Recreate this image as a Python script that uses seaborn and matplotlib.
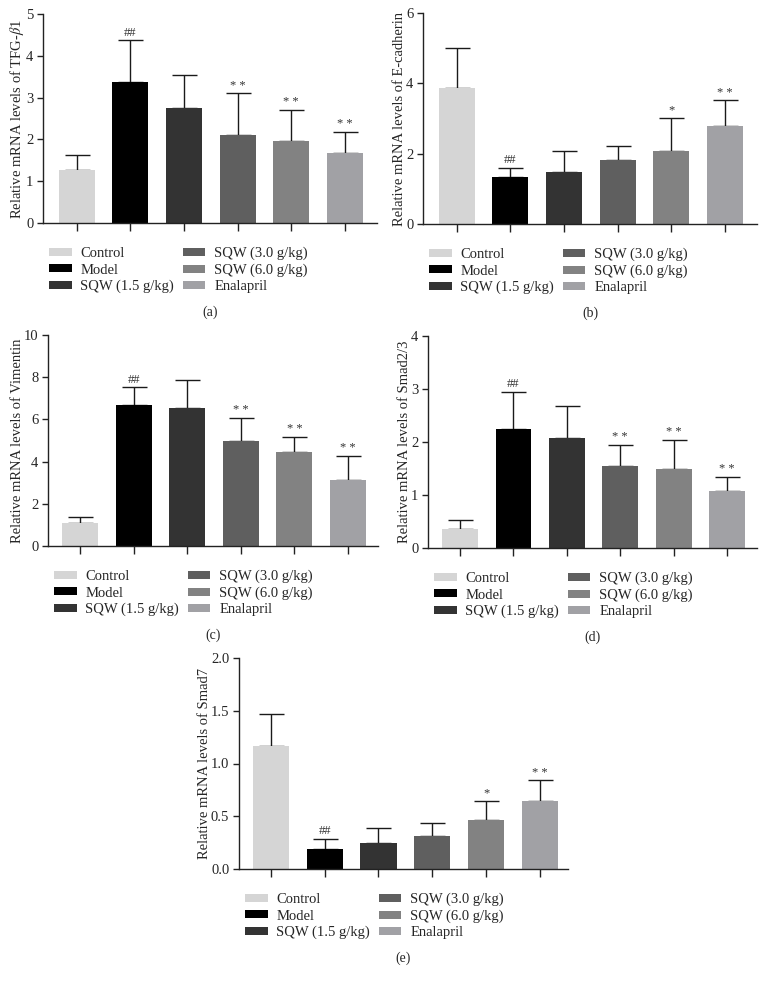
import matplotlib
matplotlib.use("Agg")
import matplotlib.pyplot as plt
import seaborn as sns
import numpy as np
from matplotlib.patches import Patch

sns.set_style("white")
plt.rcParams['font.family'] = ['Liberation Serif', 'DejaVu Serif']
plt.rcParams['mathtext.fontset'] = 'stix'

groups = ["Control", "Model", "SQW (1.5 g/kg)", "SQW (3.0 g/kg)", "SQW (6.0 g/kg)", "Enalapril"]
colors = ["#d5d5d5", "#000000", "#333333", "#5f5f5f", "#828282", "#a1a1a5"]

tgf_mean = [1.26, 3.37, 2.76, 2.10, 1.96, 1.68]
tgf_upper = [1.62, 4.37, 3.53, 3.10, 2.70, 2.18]
tgf_sig = ["", "##", "", "* *", "* *", "* *"]

ecad_mean = [3.86, 1.35, 1.49, 1.81, 2.08, 2.79]
ecad_upper = [5.00, 1.60, 2.09, 2.23, 3.02, 3.52]
ecad_sig = ["", "##", "", "", "*", "* *"]

vim_mean = [1.07, 6.68, 6.52, 4.99, 4.47, 3.11]
vim_upper = [1.39, 7.52, 7.88, 6.07, 5.18, 4.27]
vim_sig = ["", "##", "", "* *", "* *", "* *"]

smad23_mean = [0.35, 2.24, 2.07, 1.54, 1.49, 1.08]
smad23_upper = [0.53, 2.95, 2.68, 1.95, 2.04, 1.34]
smad23_sig = ["", "##", "", "* *", "* *", "* *"]

smad7_mean = [1.17, 0.19, 0.25, 0.31, 0.465, 0.645]
smad7_upper = [1.47, 0.285, 0.39, 0.44, 0.64, 0.84]
smad7_sig = ["", "##", "", "", "*", "* *"]

W, H = 765, 986
fig = plt.figure(figsize=(W / 100, H / 100), dpi=100)


def px_axes(left, right, top, bottom):
    return fig.add_axes([left / W, 1 - bottom / H, (right - left) / W, (bottom - top) / H])


panels = [
    dict(box=(43, 377, 14, 223), mean=tgf_mean, upper=tgf_upper, sig=tgf_sig, ymax=5, ticks=[0, 1, 2, 3, 4, 5],
         fmt="{:.0f}", ylabel="Relative mRNA levels of TFG-$\\beta$1", cap="(a)", xl=(-0.63, 5.6)),
    dict(box=(423, 757, 13, 224), mean=ecad_mean, upper=ecad_upper, sig=ecad_sig, ymax=6, ticks=[0, 2, 4, 6],
         fmt="{:.0f}", ylabel="Relative mRNA levels of E-cadherin", cap="(b)", xl=(-0.63, 5.6)),
    dict(box=(48, 378, 335, 546), mean=vim_mean, upper=vim_upper, sig=vim_sig, ymax=10, ticks=[0, 2, 4, 6, 8, 10],
         fmt="{:.0f}", ylabel="Relative mRNA levels of Vimentin", cap="(c)", xl=(-0.6, 5.56)),
    dict(box=(428, 757, 336, 548), mean=smad23_mean, upper=smad23_upper, sig=smad23_sig, ymax=4, ticks=[0, 1, 2, 3, 4],
         fmt="{:.0f}", ylabel="Relative mRNA levels of Smad2/3", cap="(d)", xl=(-0.6, 5.56)),
    dict(box=(239, 568, 658, 869), mean=smad7_mean, upper=smad7_upper, sig=smad7_sig, ymax=2.0,
         ticks=[0, 0.5, 1.0, 1.5, 2.0], fmt="{:.1f}", ylabel="Relative mRNA levels of Smad7", cap="(e)",
         xl=(-0.59, 5.52)),
]

for p in panels:
    l, r, t, b = p["box"]
    ax = px_axes(l, r, t, b)
    sns.barplot(x=groups, y=p["mean"], hue=groups, palette=colors, legend=False, ax=ax,
                width=0.67, saturation=1, linewidth=0, zorder=2)
    x = np.arange(len(groups))
    mean = np.array(p["mean"])
    upper = np.array(p["upper"])
    ax.errorbar(x, mean, yerr=[np.zeros_like(mean), upper - mean], fmt="none", ecolor="#1a1a1a",
                elinewidth=1.0, capsize=9, capthick=1.0, zorder=1)
    for xi, u, s in zip(x, upper, p["sig"]):
        if s:
            ax.text(xi, u + p["ymax"] * 0.008, s, ha="center", va="bottom", fontsize=9, color="#333333")
    ax.set_ylim(0, p["ymax"])
    ax.set_xlim(*p["xl"])
    ax.set_yticks(p["ticks"])
    ax.set_yticklabels([p["fmt"].format(v) for v in p["ticks"]], fontsize=10.5)
    ax.set_xticks(x)
    ax.set_xticklabels([])
    ax.set_xlabel("")
    ax.set_ylabel(p["ylabel"], fontsize=10.5, labelpad=0)
    for s in ["top", "right"]:
        ax.spines[s].set_visible(False)
    for s in ["left", "bottom"]:
        ax.spines[s].set_color("#222222")
        ax.spines[s].set_linewidth(1.0)
    ax.tick_params(axis="y", direction="out", length=4, width=1, color="#222222", left=True, pad=3)
    ax.tick_params(axis="x", direction="out", length=6, width=1, color="#222222", bottom=True)

    handles = [Patch(facecolor=c, edgecolor="none", label=g) for g, c in zip(groups, colors)]
    fig.legend(handles=handles, ncol=2, loc="upper left",
               bbox_to_anchor=((l + 6) / W, 1 - (b + 24) / H), frameon=False, fontsize=10.5,
               handlelength=1.55, handleheight=0.45, handletextpad=0.6, columnspacing=0.6,
               labelspacing=0.22, borderpad=0, borderaxespad=0)
    fig.text((l + r) / 2 / W, 1 - (b + 89) / H, p["cap"], ha="center", va="center", fontsize=10)

fig.savefig("out.png", dpi=100)
